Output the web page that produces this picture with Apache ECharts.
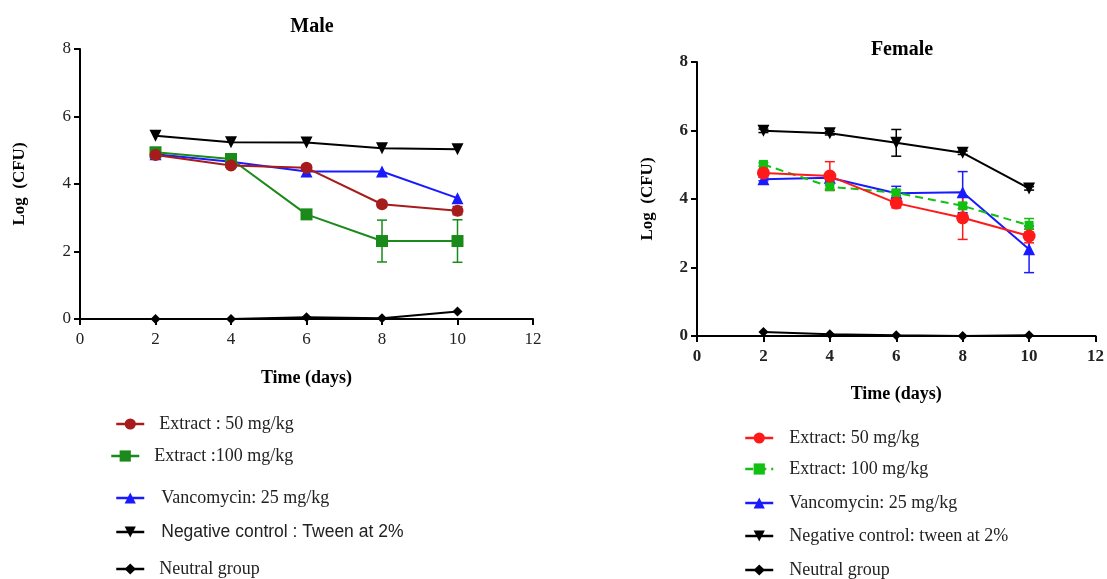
<!DOCTYPE html>
<html>
<head>
<meta charset="utf-8">
<script src="https://cdn.jsdelivr.net/npm/echarts@6/dist/echarts.min.js"></script>
<style>
html,body{margin:0;padding:0;background:#fff;}
#main{width:1107px;height:579px;}
</style>
</head>
<body>
<div id="main"></div>
<script>
// days on the x axis
var days = [2, 4, 6, 8, 10];

// Male group
var maleExt50 = [4.86, 4.55, 4.48, 3.40, 3.21];
var maleExt50Err = [0.05, 0.05, 0.08, 0.08, 0.12];
var maleExt100 = [4.94, 4.74, 3.10, 2.31, 2.31];
var maleExt100Err = [0.05, 0.05, 0.08, 0.62, 0.63];
var maleVanco = [4.88, 4.66, 4.37, 4.37, 3.58];
var maleNeg = [5.43, 5.24, 5.23, 5.06, 5.03];
var maleNeutral = [0, 0, 0.05, 0.02, 0.22];

// Female group
var femExt50 = [4.76, 4.67, 3.88, 3.45, 2.92];
var femExt50Err = [0.08, 0.42, 0.14, 0.63, 0.2];
var femExt100 = [5.01, 4.36, 4.18, 3.80, 3.23];
var femExt100Err = [0.05, 0.08, 0.08, 0.08, 0.2];
var femVanco = [4.58, 4.62, 4.17, 4.20, 2.53];
var femVancoErr = [0.05, 0.05, 0.2, 0.6, 0.68];
var femNeg = [5.99, 5.92, 5.64, 5.35, 4.31];
var femNegErr = [0.05, 0.05, 0.39, 0.05, 0.05];
var femNeutral = [0.12, 0.05, 0.02, 0, 0.02];

var SERIF = '"Liberation Serif", "DejaVu Serif", serif';
var SANS = '"Liberation Sans", Arial, sans-serif';

function pts(vals){
	return days.map(function(d,i){ return [d, vals[i]]; });
}
function errPts(vals, errs){
	return days.map(function(d,i){ return [d, vals[i]-errs[i], vals[i]+errs[i]]; });
}

function errSeries(idx, vals, errs, color){
	return {
		type:'custom', xAxisIndex:idx, yAxisIndex:idx, z:1,
		data: errPts(vals, errs),
		renderItem:function(params, api){
			var lo = api.coord([api.value(0), api.value(1)]);
			var hi = api.coord([api.value(0), api.value(2)]);
			var st = {stroke:color, lineWidth:1.5};
			return {type:'group', children:[
				{type:'line', shape:{x1:lo[0],y1:lo[1],x2:hi[0],y2:hi[1]}, style:st},
				{type:'line', shape:{x1:lo[0]-5,y1:lo[1],x2:lo[0]+5,y2:lo[1]}, style:st},
				{type:'line', shape:{x1:hi[0]-5,y1:hi[1],x2:hi[0]+5,y2:hi[1]}, style:st}
			]};
		}
	};
}

function line(idx, name, vals, color, symbol, size, extra){
	var s = {
		name:name, type:'line', xAxisIndex:idx, yAxisIndex:idx,
		data:pts(vals), symbol:symbol, symbolSize:size, z:3,
		itemStyle:{color:color}, lineStyle:{color:color, width:2},
		emphasis:{disabled:true}
	};
	if(extra){ for(var k in extra){ s[k]=extra[k]; } }
	return s;
}

function xAx(idx, boldLbl){
	return {
		type:'value', gridIndex:idx, min:0, max:12, interval:2,
		name:'Time (days)', nameLocation:'middle', nameGap:idx==0?50:49,
		nameTextStyle:{fontFamily:SERIF, fontWeight:'bold', fontSize:18, color:'#000'},
		axisLine:{onZero:false, lineStyle:{color:'#000', width:2}},
		axisTick:{show:true, length:6, lineStyle:{color:'#000', width:2}},
		axisLabel:{fontFamily:SERIF, fontSize:17, color:'#222', margin:12, fontWeight:boldLbl?'bold':'normal'},
		splitLine:{show:false}
	};
}
function yAx(idx, boldLbl){
	return {
		type:'value', gridIndex:idx, min:0, max:8, interval:2,
		name:'Log  (CFU)', nameLocation:'middle', nameGap:idx==0?52:41,
		nameTextStyle:{fontFamily:SERIF, fontWeight:'bold', fontSize:17, color:'#000'},
		axisLine:{lineStyle:{color:'#000', width:2}},
		axisTick:{show:true, length:6, lineStyle:{color:'#000', width:2}},
		axisLabel:{fontFamily:SERIF, fontSize:17, color:'#222', margin:9, fontWeight:boldLbl?'bold':'normal'},
		splitLine:{show:false}
	};
}

function leg(name, left, center, font, gap){
	return {
		data:[name], left:left, top:center-8, orient:'vertical', padding:0,
		itemWidth:28, itemHeight:14, selectedMode:false,
		lineStyle:{width:2.5},
		textStyle:{fontFamily:font||SERIF, fontSize:font?17.5:18, color:'#222', padding:[0,0,0,gap||10]}
	};
}

var myChart = echarts.init(document.getElementById('main'));

var option = {
	backgroundColor:'#fff',
	animation:false,
	title:[
		{text:'Male', left:307, top:12, textAlign:'center',
		 textStyle:{fontFamily:SERIF, fontWeight:'bold', fontSize:20, color:'#000'}},
		{text:'Female', left:897, top:35, textAlign:'center',
		 textStyle:{fontFamily:SERIF, fontWeight:'bold', fontSize:20, color:'#000'}}
	],
	grid:[
		{left:80, top:49, width:453, height:270},
		{left:697, top:62, width:400, height:274}
	],
	xAxis:[xAx(0,false), xAx(1,true)],
	yAxis:[yAx(0,false), yAx(1,true)],
	legend:[
		leg('Extract : 50 mg/kg', 115, 423),
		leg('Extract :100 mg/kg', 110, 455),
		leg('Vancomycin: 25 mg/kg', 115, 497, null, 12),
		leg('Negative control : Tween at 2%', 115, 531, SANS, 12),
		leg('Neutral group', 115, 568),
		leg('Extract: 50 mg/kg', 744, 437, null, 11),
		leg('Extract: 100 mg/kg', 744, 468, null, 11),
		leg('Vancomycin: 25 mg/kg ', 744, 502, null, 11),
		leg('Negative control: tween at 2%', 744, 535, null, 11),
		leg('Neutral group ', 744, 569, null, 11)
	],
	series:[
		// male
		line(0, 'Neutral group', maleNeutral, '#000', 'diamond', 10),
		line(0, 'Negative control : Tween at 2%', maleNeg, '#000', 'triangle', 12, {symbolRotate:180}),
		line(0, 'Vancomycin: 25 mg/kg', maleVanco, '#1a1aff', 'triangle', 12),
		errSeries(0, maleExt100, maleExt100Err, '#1a8a1a'),
		line(0, 'Extract :100 mg/kg', maleExt100, '#1a8a1a', 'rect', 12),
		errSeries(0, maleExt50, maleExt50Err, '#a61c1c'),
		line(0, 'Extract : 50 mg/kg', maleExt50, '#a61c1c', 'circle', 12),
		// female
		line(1, 'Neutral group ', femNeutral, '#000', 'diamond', 10),
		errSeries(1, femNeg, femNegErr, '#000'),
		line(1, 'Negative control: tween at 2%', femNeg, '#000', 'triangle', 12, {symbolRotate:180}),
		errSeries(1, femVanco, femVancoErr, '#1a1aff'),
		line(1, 'Vancomycin: 25 mg/kg ', femVanco, '#1a1aff', 'triangle', 12),
		errSeries(1, femExt100, femExt100Err, '#11c011'),
		line(1, 'Extract: 100 mg/kg', femExt100, '#11c011', 'rect', 9, {lineStyle:{color:'#11c011', width:2, type:[8,5]}}),
		errSeries(1, femExt50, femExt50Err, '#ff1a1a'),
		line(1, 'Extract: 50 mg/kg', femExt50, '#ff1a1a', 'circle', 13)
	]
};

myChart.setOption(option);
</script>
</body>
</html>
